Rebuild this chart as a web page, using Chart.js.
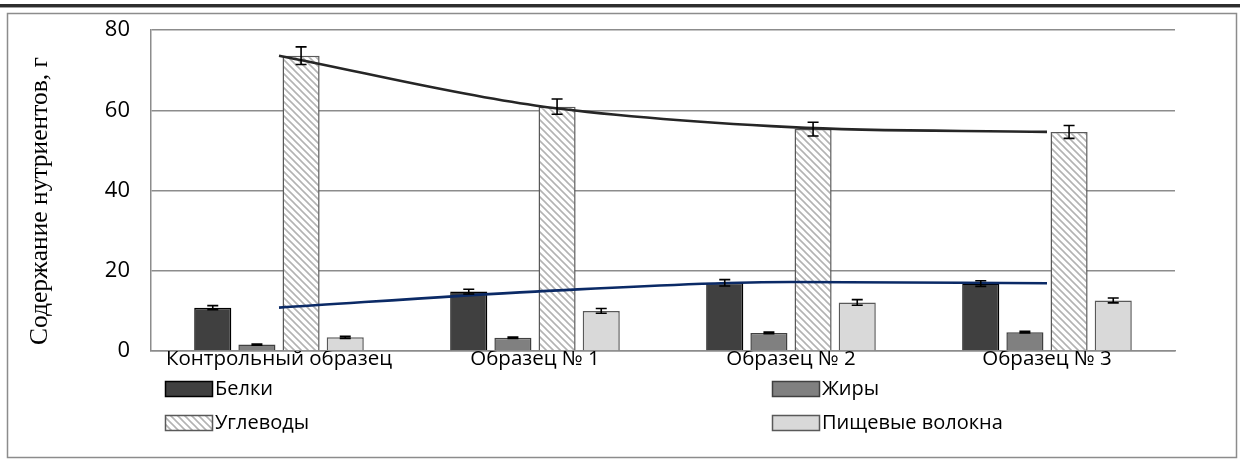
<!DOCTYPE html>
<html>
<head>
<meta charset="utf-8">
<script src="https://cdn.jsdelivr.net/npm/chart.js@4.4.1/dist/chart.umd.min.js"></script>
<style>
  html, body { margin: 0; padding: 0; background: #fff; }
  #wrap { width: 1240px; height: 468px; }
</style>
</head>
<body>
<div id="wrap"><canvas id="grafik" width="1240" height="468"></canvas></div>
<script>
// данные диаграммы
const kategori = ['Контрольный образец', 'Образец № 1', 'Образец № 2', 'Образец № 3'];
const belki = [10.8, 14.8, 17.0, 16.8];
const zhiry = [1.6, 3.3, 4.5, 4.7];
const uglevody = [73.6, 60.9, 55.3, 54.6];
const volokna = [3.4, 10.0, 12.1, 12.6];
const errBelki = [0.5, 0.6, 0.8, 0.7];
const errZhiry = [0.15, 0.2, 0.2, 0.2];
const errUglevody = [2.2, 1.9, 1.7, 1.6];
const errVolokna = [0.25, 0.6, 0.7, 0.6];
const trendUglevody = [73.6, 61.2, 55.8, 54.6];
const trendBelki = [10.8, 14.8, 17.2, 16.9];
const yTicks = [0, 20, 40, 60, 80];
const yTitle = 'Содержание нутриентов, г';

const SANS = "'Open Sans', sans-serif";
const SERIF = "'Liberation Serif', serif";

// штриховка для углеводов
function shtrih() {
  const c = document.createElement('canvas');
  c.width = 7; c.height = 7;
  const g = c.getContext('2d');
  g.fillStyle = '#fff';
  g.fillRect(0, 0, 7, 7);
  g.strokeStyle = '#b3b3b3';
  g.lineWidth = 1.6;
  g.beginPath();
  g.moveTo(-2, -2); g.lineTo(9, 9);
  g.moveTo(-2, 5); g.lineTo(2, 9);
  g.moveTo(5, -2); g.lineTo(9, 2);
  g.stroke();
  return g.createPattern(c, 'repeat');
}
const ctx = document.getElementById('grafik').getContext('2d');
const hatch = shtrih();

const ramka = {
  id: 'ramka',
  beforeDraw(chart) {
    const g = chart.ctx;
    g.save();
    g.fillStyle = '#fff';
    g.fillRect(0, 0, chart.width, chart.height);
    g.fillStyle = '#2e2e2e';
    g.fillRect(0, 4, chart.width, 3);
    g.fillStyle = '#a0a0a0';
    g.fillRect(0, 7, chart.width, 1);
    g.strokeStyle = '#8c8c8c';
    g.lineWidth = 1.5;
    g.strokeRect(7.5, 13.5, 1229, 444);
    // подпись оси Y
    g.translate(40, 201);
    g.rotate(-Math.PI / 2);
    g.font = '25.5px ' + SERIF;
    g.fillStyle = '#000';
    g.textAlign = 'center';
    g.textBaseline = 'middle';
    g.fillText(yTitle, 0, 0);
    g.restore();
  }
};

const oshibki = {
  id: 'oshibki',
  afterDatasetsDraw(chart) {
    const g = chart.ctx;
    const y = chart.scales.y;
    g.save();
    g.strokeStyle = '#000';
    g.lineWidth = 1.6;
    chart.data.datasets.forEach((ds, i) => {
      if (!ds.err) return;
      chart.getDatasetMeta(i).data.forEach((bar, j) => {
        const v = ds.data[j], e = ds.err[j];
        const y1 = y.getPixelForValue(v + e), y2 = y.getPixelForValue(v - e);
        const w = 5.5;
        g.beginPath();
        g.moveTo(bar.x, y1); g.lineTo(bar.x, y2);
        g.moveTo(bar.x - w, y1); g.lineTo(bar.x + w, y1);
        g.moveTo(bar.x - w, y2); g.lineTo(bar.x + w, y2);
        g.stroke();
      });
    });
    g.restore();
  }
};

const legenda = {
  id: 'legenda',
  afterDraw(chart) {
    const g = chart.ctx;
    const pos = [[165, 389], [772, 389], [165, 423], [772, 423]];
    g.save();
    g.font = '20px ' + SANS;
    g.textBaseline = 'middle';
    chart.data.datasets.filter(d => d.type !== 'line').forEach((ds, i) => {
      const [x, yc] = pos[i];
      g.fillStyle = ds.backgroundColor;
      g.fillRect(x, yc - 8, 48, 16);
      g.strokeStyle = ds.borderColor;
      g.lineWidth = 1.5;
      g.strokeRect(x + 0.5, yc - 7.5, 47, 15);
      g.fillStyle = '#000';
      g.fillText(ds.label, x + 50, yc);
    });
    g.restore();
  }
};

const stolbik = (label, data, err, fill, border) => ({
  label: label, data: data, err: err,
  backgroundColor: fill, borderColor: border, borderWidth: 1.5,
  categoryPercentage: 0.69, barPercentage: 0.84, order: 2
});

const trend = (data, color) => ({
  type: 'line', data: data, borderColor: color, borderWidth: 2.6,
  pointRadius: 0, fill: false, tension: 0.4, cubicInterpolationMode: 'monotone', order: 1
});

new Chart(ctx, {
  type: 'bar',
  data: {
    labels: kategori,
    datasets: [
      stolbik('Белки', belki, errBelki, '#404040', '#000000'),
      stolbik('Жиры', zhiry, errZhiry, '#808080', '#404040'),
      stolbik('Углеводы', uglevody, errUglevody, hatch, '#595959'),
      stolbik('Пищевые волокна', volokna, errVolokna, '#d9d9d9', '#595959'),
      trend(trendUglevody, '#262626'),
      trend(trendBelki, '#0b2a66')
    ]
  },
  options: {
    responsive: false,
    animation: false,
    layout: { padding: { top: 30, right: 65, bottom: 0, left: 0 } },
    plugins: {
      legend: { display: false },
      tooltip: { enabled: false }
    },
    scales: {
      y: {
        min: 0, max: 80,
        afterBuildTicks(s) { s.ticks = yTicks.map(v => ({ value: v })); },
        afterFit(s) { s.width = 151; s.paddingTop = 0; s.paddingBottom = 0; },
        ticks: { font: { family: SANS, size: 22 }, color: '#000', padding: 21 },
        grid: { color: '#8c8c8c', lineWidth: 1.5, drawTicks: false },
        border: { color: '#8c8c8c', width: 1.5 }
      },
      x: {
        afterFit(s) { s.height = 117; s.paddingLeft = 0; s.paddingRight = 0; },
        ticks: { font: { family: SANS, size: 20.5 }, color: '#000', padding: -12, maxRotation: 0, autoSkip: false },
        grid: { display: false },
        border: { color: '#8c8c8c', width: 1.5 }
      }
    }
  },
  plugins: [ramka, oshibki, legenda]
});
</script>
</body>
</html>
